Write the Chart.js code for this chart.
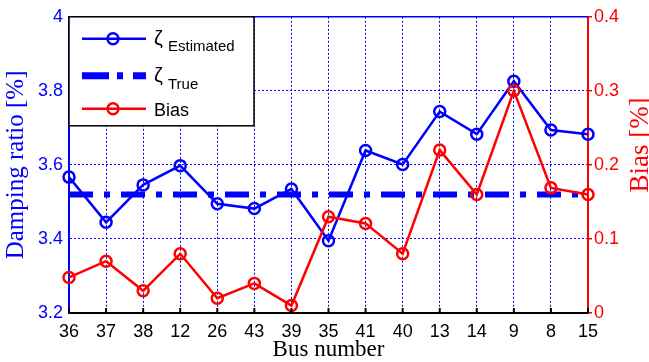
<!DOCTYPE html>
<html>
<head>
<meta charset="utf-8">
<script src="https://cdn.jsdelivr.net/npm/chart.js@4"></script>
<style>
  html, body { margin: 0; padding: 0; background: #fff; }
  #wrap { width: 649px; height: 362px; }
</style>
</head>
<body>
<div id="wrap"><canvas id="dampChart"></canvas></div>
<script>
// bus numbers on the x axis
const busNumbers = ['36', '37', '38', '12', '26', '43', '39', '35', '41', '40', '13', '14', '9', '8', '15'];
// damping ratio [%]
const zetaEstimated = [3.567, 3.445, 3.546, 3.598, 3.495, 3.482, 3.535, 3.395, 3.639, 3.601, 3.744, 3.683, 3.826, 3.694, 3.683];
const zetaTrue = [3.52, 3.52, 3.52, 3.52, 3.52, 3.52, 3.52, 3.52, 3.52, 3.52, 3.52, 3.52, 3.52, 3.52, 3.52];
// bias [%]
const bias = [0.048, 0.07, 0.03, 0.08, 0.02, 0.04, 0.01, 0.13, 0.121, 0.08, 0.22, 0.16, 0.30, 0.169, 0.16];

const BLUE = '#0000ff';
const RED = '#ff0000';
const sans = "'Liberation Sans', Arial, sans-serif";
const serif = "'Liberation Serif', 'Times New Roman', serif";

const fmt = v => String(+Number(v).toFixed(1));

// top border, inward x ticks, right title and the legend box
const extras = {
    id: 'extras',
    afterDraw(chart) {
        const ctx = chart.ctx;
        const a = chart.chartArea;
        const x = chart.scales.x;
        ctx.save();

        ctx.strokeStyle = BLUE;
        ctx.lineWidth = 1.5;
        ctx.beginPath();
        ctx.moveTo(a.left, a.top);
        ctx.lineTo(a.right, a.top);
        ctx.stroke();

        ctx.strokeStyle = '#000';
        ctx.lineWidth = 2;
        busNumbers.forEach((b, i) => {
            const px = x.getPixelForTick(i);
            ctx.beginPath();
            ctx.moveTo(px, a.bottom);
            ctx.lineTo(px, a.bottom - 5);
            ctx.stroke();
        });

        // right axis title, reading bottom to top
        ctx.save();
        ctx.translate(648, 145);
        ctx.rotate(-Math.PI / 2);
        ctx.fillStyle = RED;
        ctx.font = '27px ' + serif;
        ctx.textAlign = 'center';
        ctx.textBaseline = 'alphabetic';
        ctx.fillText('Bias [%]', 0, 0);
        ctx.restore();

        // legend
        const lx = a.left, ly = a.top;
        ctx.fillStyle = '#fff';
        ctx.fillRect(lx, ly, 185, 109);
        ctx.strokeStyle = '#000';
        ctx.lineWidth = 1.5;
        ctx.strokeRect(lx, ly, 185, 109);

        const sample = (y, color, circle) => {
            ctx.strokeStyle = color;
            ctx.lineWidth = 2.5;
            ctx.setLineDash([]);
            ctx.beginPath();
            ctx.moveTo(lx + 13, y);
            ctx.lineTo(lx + 77, y);
            ctx.stroke();
            if (circle) {
                ctx.beginPath();
                ctx.arc(lx + 44, y, 5.5, 0, Math.PI * 2);
                ctx.stroke();
            }
        };
        sample(ly + 22, BLUE, true);
        sample(ly + 92, RED, true);

        ctx.strokeStyle = BLUE;
        ctx.lineWidth = 7;
        ctx.setLineDash([27, 8, 6, 10]);
        ctx.beginPath();
        ctx.moveTo(lx + 13, ly + 59);
        ctx.lineTo(lx + 77, ly + 59);
        ctx.stroke();
        ctx.setLineDash([]);

        ctx.fillStyle = '#000';
        ctx.textAlign = 'left';
        ctx.textBaseline = 'alphabetic';
        ctx.font = '20px ' + sans;
        ctx.fillText('ζ', lx + 85, ly + 28);
        ctx.fillText('ζ', lx + 85, ly + 65);
        ctx.font = '15px ' + sans;
        ctx.fillText('Estimated', lx + 99, ly + 34);
        ctx.fillText('True', lx + 99, ly + 72);
        ctx.font = '18px ' + sans;
        ctx.fillText('Bias', lx + 85, ly + 99);

        ctx.restore();
    }
};

new Chart(document.getElementById('dampChart'), {
    type: 'line',
    data: {
        labels: busNumbers,
        datasets: [{
            label: 'ζ Estimated',
            data: zetaEstimated,
            yAxisID: 'y',
            borderColor: BLUE,
            backgroundColor: 'transparent',
            borderWidth: 2.5,
            pointRadius: 5.5,
            pointBorderWidth: 2.5,
            pointBackgroundColor: 'transparent',
            pointBorderColor: BLUE,
            clip: false,
            order: 3
        }, {
            label: 'ζ True',
            data: zetaTrue,
            yAxisID: 'y',
            borderColor: BLUE,
            borderWidth: 6,
            borderDash: [24, 11, 6, 11],
            borderCapStyle: 'butt',
            pointRadius: 0,
            order: 2
        }, {
            label: 'Bias',
            data: bias,
            yAxisID: 'y1',
            borderColor: RED,
            backgroundColor: 'transparent',
            borderWidth: 2.5,
            pointRadius: 5.5,
            pointBorderWidth: 2.5,
            pointBackgroundColor: 'transparent',
            pointBorderColor: RED,
            clip: false,
            order: 1
        }]
    },
    options: {
        responsive: true,
        maintainAspectRatio: false,
        animation: false,
        layout: { padding: { top: 13, right: 0, bottom: 0, left: 0 } },
        plugins: { legend: { display: false }, tooltip: { enabled: false } },
        scales: {
            x: {
                offset: false,
                afterFit: s => { s.height = 49; },
                grid: { color: BLUE, lineWidth: 1, drawTicks: false },
                border: { color: '#000', width: 2, dash: [2, 2] },
                ticks: { color: '#000', font: { family: sans, size: 18 }, padding: 8, maxRotation: 0, autoSkip: false },
                title: { display: true, text: 'Bus number', color: '#000', font: { family: serif, size: 23, lineHeight: 1 }, padding: { top: 0, bottom: 1 } }
            },
            y: {
                position: 'left',
                min: 3.2,
                max: 4,
                afterFit: s => { s.width = 69; },
                grid: { color: BLUE, lineWidth: 1, drawTicks: false },
                border: { color: BLUE, width: 2, dash: [2, 2] },
                ticks: { stepSize: 0.2, color: BLUE, font: { family: sans, size: 18 }, padding: 6, callback: fmt },
                title: { display: true, text: 'Damping ratio [%]', color: BLUE, font: { family: serif, size: 25, lineHeight: 1 }, padding: { top: 3.5, bottom: 0 } }
            },
            y1: {
                position: 'right',
                min: 0,
                max: 0.4,
                afterFit: s => { s.width = 61; },
                grid: { drawOnChartArea: false, color: RED, tickLength: 4, lineWidth: 1.5 },
                border: { color: RED, width: 2 },
                ticks: { stepSize: 0.1, color: RED, font: { family: sans, size: 18 }, padding: 2, callback: fmt }
            }
        }
    },
    plugins: [extras]
});
</script>
</body>
</html>
